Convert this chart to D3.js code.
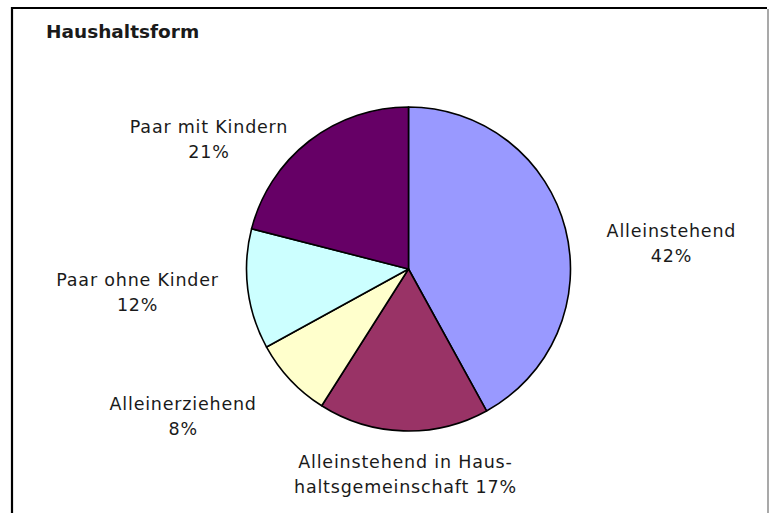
<!DOCTYPE html>
<html>
<head>
<meta charset="utf-8">
<script src="https://cdn.jsdelivr.net/npm/d3@7"></script>
<style>
  body { margin: 0; background: #fff; }
  text { font-family: "DejaVu Sans", sans-serif; fill: #1a1a1a; }
</style>
</head>
<body>
<svg id="chart" width="769" height="513"></svg>
<script>
// data (clockwise from 12 o'clock)
const categories = ["Alleinstehend", "Alleinstehend in Haushaltsgemeinschaft", "Alleinerziehend", "Paar ohne Kinder", "Paar mit Kindern"];
const shares = [42, 17, 8, 12, 21];
const labelLines = [
    ["Alleinstehend", "42%"],
    ["Alleinstehend in Haus-", "haltsgemeinschaft 17%"],
    ["Alleinerziehend", "8%"],
    ["Paar ohne Kinder", "12%"],
    ["Paar mit Kindern", "21%"]
];
const colors = ["#9999ff", "#993366", "#ffffcc", "#ccffff", "#660066"];

const svg = d3.select("#chart");
const width = +svg.attr("width"), height = +svg.attr("height");

// frame around the chart area
svg.append("path")
    .attr("d", "M12,513 V8 H767")
    .attr("fill", "none")
    .attr("stroke", "#000")
    .attr("stroke-width", 2.2);
svg.append("line")
    .attr("x1", 768).attr("x2", 768)
    .attr("y1", 9).attr("y2", height)
    .attr("stroke", "#8c8c8c")
    .attr("stroke-width", 1.5);

svg.append("text")
    .attr("x", 46)
    .attr("y", 38)
    .style("font-size", "18.5px")
    .style("font-weight", "bold")
    .text("Haushaltsform");

const cx = 408.5, cy = 269, radius = 162;

const data = categories.map((c, i) => ({ cat: c, value: shares[i], lines: labelLines[i], color: colors[i] }));

const pie = d3.pie().value(d => d.value).sort(null);
const arc = d3.arc().innerRadius(0).outerRadius(radius);

const g = svg.append("g").attr("transform", `translate(${cx},${cy})`);

const arcs = pie(data);

g.selectAll("path.slice")
    .data(arcs)
    .enter()
    .append("path")
    .attr("class", "slice")
    .attr("d", arc)
    .attr("fill", d => d.data.color)
    .attr("stroke", "#000")
    .attr("stroke-width", 1.6)
    .attr("stroke-linejoin", "round");

// labels sit outside the pie; a label arc places them, small nudges as Excel did
const labelArc = d3.arc().innerRadius(radius + 95).outerRadius(radius + 95);
const nudge = [[14, 32], [5, -58], [-38, -35], [-16, -15], [-42, 67]];

const labels = g.selectAll("g.lbl")
    .data(arcs)
    .enter()
    .append("g")
    .attr("class", "lbl")
    .attr("transform", (d, i) => {
        const [x, y] = labelArc.centroid(d);
        return `translate(${x + nudge[i][0]},${y + nudge[i][1]})`;
    });

labels.selectAll("text")
    .data(d => d.data.lines)
    .enter()
    .append("text")
    .attr("text-anchor", "middle")
    .attr("y", (d, j) => j * 25)
    .style("font-size", "17.5px")
    .style("letter-spacing", "0.8px")
    .text(d => d);
</script>
</body>
</html>
